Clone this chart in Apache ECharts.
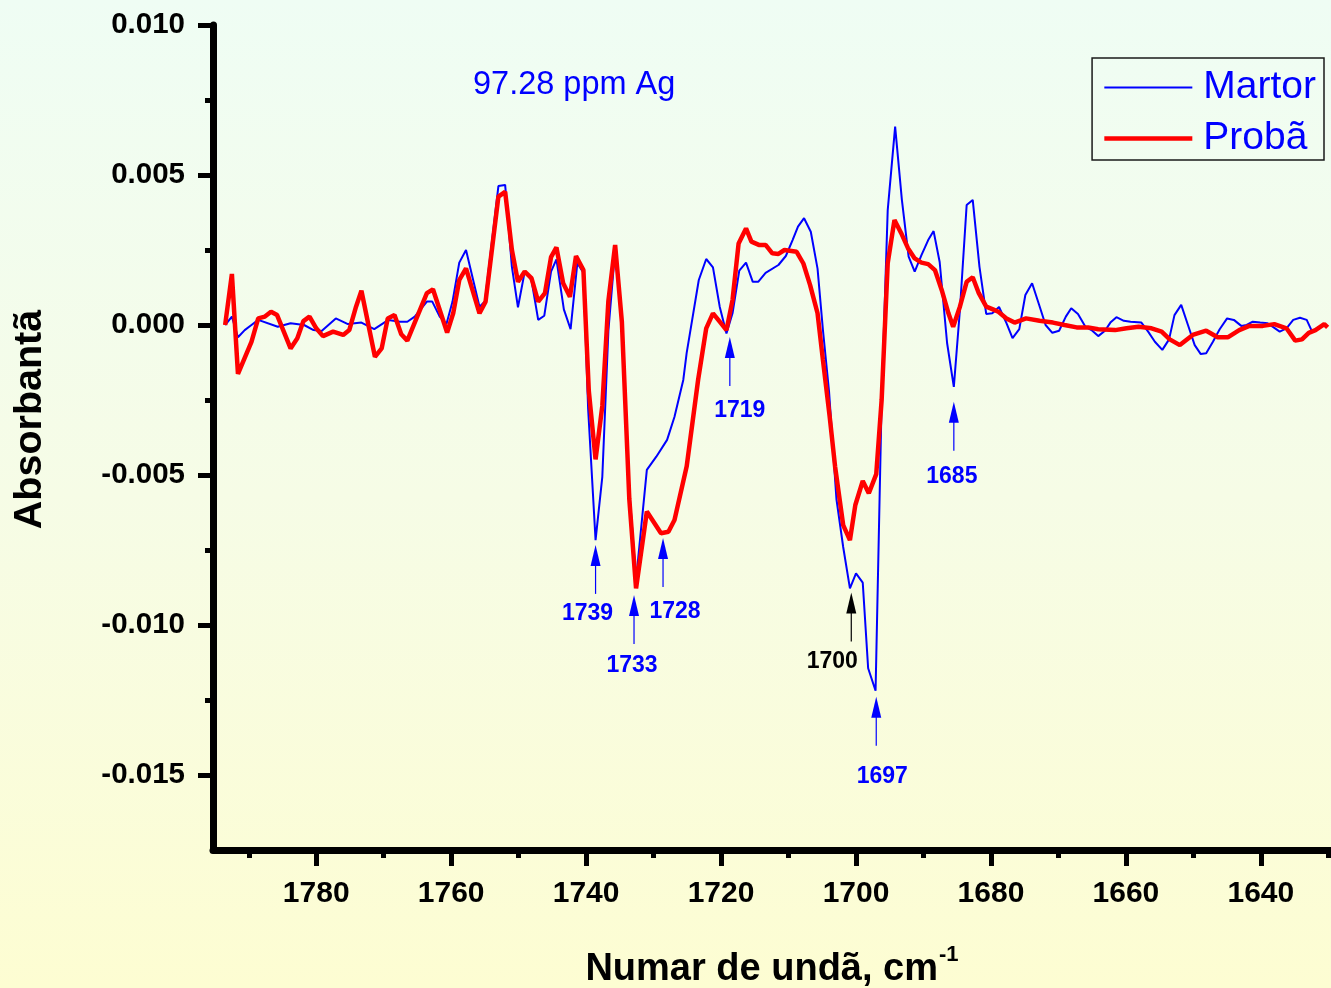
<!DOCTYPE html>
<html>
<head>
<meta charset="utf-8">
<script src="https://cdn.jsdelivr.net/npm/echarts@6/dist/echarts.min.js"></script>
<style>
html,body{margin:0;padding:0;background:#fff;}
#chart{width:1331px;height:988px;}
</style>
</head>
<body>
<div id="chart"></div>
<script>
// ---- Data (wavenumber, cm-1 / absorbance) ----
const martorWn = [1793.5,1792.5,1791.6,1790.6,1789.6,1788.6,1785.7,1783.8,1781.8,1780.4,1779.2,1777.1,1775.3,1773.3,1771.4,1769.3,1767.6,1766.5,1765.4,1763.6,1762.8,1761.7,1760.7,1759.8,1758.8,1757.8,1755.8,1755.0,1753.0,1752.0,1751.0,1750.1,1749.1,1748.1,1747.1,1746.2,1745.2,1744.4,1743.3,1742.3,1741.3,1740.4,1739.7,1738.6,1737.6,1736.7,1735.7,1734.7,1733.6,1732.6,1731.0,1729.6,1728.0,1726.9,1725.6,1725.1,1723.3,1722.2,1721.2,1720.2,1719.2,1718.3,1717.3,1716.3,1715.3,1714.5,1713.4,1711.5,1710.4,1709.4,1708.6,1707.7,1706.7,1705.7,1704.9,1704.0,1702.9,1701.9,1700.9,1700.0,1699.0,1698.2,1697.1,1696.2,1695.3,1694.2,1693.2,1692.2,1691.3,1690.3,1689.3,1688.5,1687.6,1686.5,1685.5,1684.6,1683.6,1682.7,1681.7,1680.7,1679.8,1678.8,1677.7,1676.8,1675.8,1674.9,1673.9,1672.9,1671.9,1670.9,1669.9,1668.9,1668.1,1667.1,1666.0,1665.1,1664.1,1663.1,1662.3,1661.4,1660.3,1659.3,1657.7,1656.7,1655.7,1654.6,1653.6,1652.8,1651.8,1650.8,1649.8,1648.9,1648.1,1647.1,1646.1,1645.0,1644.0,1642.9,1642.1,1641.2,1640.1,1639.0,1638.1,1637.2,1636.2,1635.2,1634.2,1633.2,1632.4,1631.5];
const martorAbs = [0.0000,0.00028,-0.00041,-0.00017,0.0000,0.00017,-0.00006,0.00006,0.0000,-0.00017,-0.00020,0.00022,0.00003,0.00008,-0.00014,0.00017,0.00011,0.00011,0.00028,0.00078,0.00078,0.00028,0.00003,0.00078,0.00208,0.00250,0.00061,0.00078,0.00463,0.00467,0.00194,0.00059,0.00178,0.00150,0.00017,0.00031,0.00178,0.00219,0.00052,-0.00014,0.00206,0.00174,-0.00280,-0.00717,-0.00506,-0.00020,0.00250,0.00030,-0.00550,-0.00850,-0.00483,-0.00439,-0.00383,-0.00306,-0.00183,-0.00094,0.00150,0.00220,0.00192,0.00061,-0.00028,0.00039,0.00181,0.00208,0.00144,0.00144,0.00174,0.00200,0.00230,0.00283,0.00328,0.00356,0.00311,0.00188,-0.00017,-0.00220,-0.00580,-0.00740,-0.00878,-0.00828,-0.00859,-0.01144,-0.01219,-0.00250,0.00383,0.00661,0.00417,0.00228,0.00178,0.00233,0.00283,0.00313,0.00210,-0.00060,-0.00206,0.00050,0.00400,0.00417,0.00194,0.00037,0.00039,0.00060,0.00006,-0.00044,-0.00014,0.00100,0.00139,0.00070,0.0000,-0.00026,-0.00019,0.00028,0.00056,0.00037,-0.00006,-0.00017,-0.00037,-0.00019,0.00008,0.00026,0.00014,0.00011,0.00008,-0.00022,-0.00056,-0.00083,-0.00048,0.00033,0.00067,0.0000,-0.00067,-0.00097,-0.00094,-0.00056,-0.00014,0.00022,0.00017,-0.00003,0.0000,0.00011,0.00008,0.00006,-0.00008,-0.00022,-0.00011,0.00017,0.00024,0.00017,-0.00022,-0.00008];

const probaWn = [1793.5,1792.5,1791.6,1789.6,1788.6,1787.6,1786.7,1785.8,1783.8,1782.8,1781.9,1781.0,1780.0,1779.0,1777.5,1776.0,1775.1,1774.1,1773.3,1771.3,1770.3,1769.4,1768.4,1767.4,1766.5,1763.6,1762.7,1760.6,1759.7,1758.8,1757.8,1755.8,1754.9,1753.0,1752.0,1751.0,1750.1,1749.1,1748.1,1747.1,1746.1,1745.2,1744.4,1743.4,1742.4,1741.5,1740.4,1739.6,1738.6,1737.6,1736.7,1735.7,1734.7,1733.6,1732.6,1731.0,1728.9,1727.8,1726.9,1725.1,1723.4,1722.2,1721.2,1720.2,1719.2,1718.3,1717.4,1716.3,1715.5,1714.4,1713.4,1712.4,1711.5,1710.6,1708.8,1707.8,1706.8,1705.7,1704.9,1703.9,1703.1,1701.9,1700.9,1700.1,1699.0,1698.1,1697.0,1696.2,1695.3,1694.3,1693.3,1692.3,1691.3,1690.3,1689.3,1688.3,1687.3,1686.3,1685.6,1684.6,1683.6,1682.7,1681.8,1680.7,1679.7,1678.9,1677.7,1676.5,1674.8,1672.8,1670.8,1669.1,1667.3,1665.6,1664.1,1661.6,1659.9,1658.1,1656.2,1654.7,1653.5,1652.0,1650.1,1648.1,1646.4,1644.9,1643.2,1641.7,1639.7,1638.0,1636.2,1634.9,1633.9,1632.9,1631.9,1630.6,1630.1];
const probaAbs = [0.0000,0.00170,-0.00163,-0.00056,0.00022,0.00028,0.00044,0.00033,-0.00078,-0.00044,0.00013,0.00028,-0.00011,-0.00037,-0.00022,-0.00033,-0.00017,0.00061,0.00114,-0.00106,-0.00078,0.00022,0.00033,-0.00031,-0.00052,0.00106,0.00119,-0.00025,0.00039,0.00150,0.00189,0.00039,0.00078,0.00428,0.00444,0.00250,0.00144,0.00178,0.00156,0.00078,0.00106,0.00226,0.00259,0.00139,0.00094,0.00230,0.00183,-0.00220,-0.00448,-0.00270,0.00080,0.00267,0.00010,-0.00580,-0.00878,-0.00622,-0.00694,-0.00689,-0.00650,-0.00472,-0.00183,-0.00011,0.00039,0.00011,-0.00017,0.00083,0.00272,0.00322,0.00278,0.00267,0.00267,0.00239,0.00237,0.00250,0.00244,0.00205,0.00133,0.00039,-0.00117,-0.00306,-0.00472,-0.00667,-0.00717,-0.00600,-0.00520,-0.00561,-0.00497,-0.00250,0.00206,0.00350,0.00306,0.00256,0.00222,0.00208,0.00203,0.00183,0.00117,0.00039,-0.00006,0.00061,0.00144,0.00159,0.00106,0.00061,0.00052,0.00044,0.00022,0.00008,0.00022,0.00014,0.00008,0.0000,-0.00008,-0.00008,-0.00014,-0.00017,-0.00011,-0.00006,-0.00011,-0.00022,-0.00048,-0.00067,-0.00033,-0.00019,-0.00041,-0.00041,-0.00017,-0.00003,-0.00003,0.00003,-0.00011,-0.00052,-0.00048,-0.00026,-0.00017,0.00003,-0.00008];

const seriesNames = ['Martor', 'Probã'];
const xMajorTicks = [1780, 1760, 1740, 1720, 1700, 1680, 1660, 1640];
const xMinorTicks = [1790, 1770, 1750, 1730, 1710, 1690, 1670, 1650, 1630];
const yMajorTicks = [-0.015, -0.010, -0.005, 0, 0.005, 0.010];
const yMinorTicks = [-0.0125, -0.0075, -0.0025, 0.0025, 0.0075];

// peak annotations: label, wavenumber of arrow, absorbance at arrow tip
const peakLabels = ['1739', '1733', '1728', '1719', '1700', '1697', '1685'];
const peakWn     = [1738.6, 1732.9, 1728.6, 1718.7, 1700.7, 1697.0, 1685.5];
const peakTipAbs = [-0.00733, -0.0090, -0.0071, -0.0004, -0.00892, -0.01239, -0.00256];

// ---- styling (not data) ----
const peakColors = ['#0000ff', '#0000ff', '#0000ff', '#0000ff', '#000000', '#0000ff', '#0000ff'];
const peakLabelDx = [-8, -2, 12, 10, -19, 6, -2];
const peakLabelDy = [69, 71, 74, 74, 69, 80, 75];
const lineWidths = [2, 4.5];
const lineColors = ['#0000ff', '#ff0000'];

const zip = (a, b) => a.map((v, i) => [v, b[i]]);
const X_MIN = 1629.6, X_MAX = 1795.3, Y_MIN = -0.0175, Y_MAX = 0.010;
const FONT = 'Liberation Sans, Arial, sans-serif';

const chart = echarts.init(document.getElementById('chart'), null, { renderer: 'canvas' });

const option = {
  backgroundColor: {
    type: 'linear', x: 0, y: 0, x2: 0, y2: 1,
    colorStops: [
      { offset: 0, color: '#effdf4' },
      { offset: 0.5, color: '#f6fce6' },
      { offset: 1, color: '#fdfdd2' }
    ]
  },
  animation: false,
  textStyle: { fontFamily: FONT },
  title: {
    text: '97.28 ppm Ag',
    left: 468, top: 64,
    textStyle: { color: '#0000ff', fontSize: 32.5, fontWeight: 'normal', fontFamily: FONT }
  },
  legend: {
    data: seriesNames.map((n, i) => ({ name: n, lineStyle: { width: lineWidths[i], color: lineColors[i] } })),
    orient: 'vertical',
    right: 7, top: 58,
    backgroundColor: 'transparent',
    borderColor: '#1a1a1a',
    borderWidth: 1.5,
    borderRadius: 0,
    padding: [10, 8, 2, 10],
    itemWidth: 88,
    itemHeight: 14,
    itemGap: 12,
    itemStyle: { color: 'transparent', borderColor: 'transparent', borderWidth: 0, opacity: 0 },
    textStyle: { color: '#0000ff', fontSize: 39, fontFamily: FONT, padding: [0, 0, 0, 6] }
  },
  grid: { left: 213, right: 0, top: 25, bottom: 138, containLabel: false, outerBoundsMode: 'none' },
  xAxis: [
    {
      type: 'value', inverse: true, min: X_MIN, max: X_MAX, position: 'bottom',
      name: '{t|Numar de undã, cm}{s|-1}',
      nameLocation: 'middle', nameGap: 94,
      nameTextStyle: {
        rich: {
          t: { fontSize: 38, fontWeight: 'bold', color: '#000', fontFamily: FONT },
          s: { fontSize: 22, fontWeight: 'bold', color: '#000', fontFamily: FONT, padding: [0, 0, 30, 1] }
        }
      },
      axisLine: { show: true, onZero: false, lineStyle: { color: '#000', width: 7 } },
      axisTick: { show: true, customValues: xMajorTicks, length: 16, lineStyle: { color: '#000', width: 5 } },
      axisLabel: { customValues: xMajorTicks, color: '#000', fontSize: 30, fontWeight: 'bold', margin: 29, fontFamily: FONT,
        formatter: v => String(Math.round(v)) },
      splitLine: { show: false }
    },
    {
      type: 'value', inverse: true, min: X_MIN, max: X_MAX, position: 'bottom', offset: 0,
      axisLine: { show: false, onZero: false },
      axisTick: { show: true, customValues: xMinorTicks, length: 8, lineStyle: { color: '#000', width: 5 } },
      axisLabel: { show: false, customValues: xMinorTicks },
      splitLine: { show: false }
    }
  ],
  yAxis: [
    {
      type: 'value', min: Y_MIN, max: Y_MAX, position: 'left',
      name: 'Absorbantã',
      nameLocation: 'middle', nameGap: 163, nameRotate: 90,
      nameTextStyle: { fontSize: 39.5, fontWeight: 'bold', color: '#000', fontFamily: FONT, padding: [0, 0, 0, 36] },
      axisLine: { show: true, onZero: false, lineStyle: { color: '#000', width: 7 } },
      axisTick: { show: true, customValues: yMajorTicks, length: 15, lineStyle: { color: '#000', width: 5 } },
      axisLabel: {
        customValues: yMajorTicks, color: '#000', fontSize: 29.5, fontWeight: 'bold', margin: 28,
        fontFamily: FONT,
        formatter: v => v.toFixed(3)
      },
      splitLine: { show: false }
    },
    {
      type: 'value', min: Y_MIN, max: Y_MAX, position: 'left', offset: 0,
      axisLine: { show: false, onZero: false },
      axisTick: { show: true, customValues: yMinorTicks, length: 8, lineStyle: { color: '#000', width: 5 } },
      axisLabel: { show: false, customValues: yMinorTicks },
      splitLine: { show: false }
    }
  ],
  series: [
    {
      name: seriesNames[0], type: 'line', xAxisIndex: 0, yAxisIndex: 0,
      data: zip(martorWn, martorAbs),
      showSymbol: false, symbol: 'none',
      lineStyle: { color: lineColors[0], width: lineWidths[0] },
      itemStyle: { color: lineColors[0] },
      z: 3
    },
    {
      name: seriesNames[1], type: 'line', xAxisIndex: 0, yAxisIndex: 0,
      data: zip(probaWn, probaAbs),
      showSymbol: false, symbol: 'none',
      lineStyle: { color: lineColors[1], width: lineWidths[1] },
      itemStyle: { color: lineColors[1] },
      z: 4
    },
    {
      name: 'peaks', type: 'custom', xAxisIndex: 0, yAxisIndex: 0,
      data: peakWn.map((w, i) => [w, peakTipAbs[i], i]),
      clip: false, z: 5, silent: true,
      renderItem: function (params, api) {
        const i = api.value(2);
        const p = api.coord([api.value(0), api.value(1)]);
        const c = peakColors[i];
        const headH = 21, headW = 5, len = 49;
        return {
          type: 'group',
          children: [
            { type: 'polygon', shape: { points: [[p[0], p[1]], [p[0] - headW, p[1] + headH], [p[0] + headW, p[1] + headH]] }, style: { fill: c } },
            { type: 'line', shape: { x1: p[0], y1: p[1] + headH - 1, x2: p[0], y2: p[1] + len }, style: { stroke: c, lineWidth: 1.2 } },
            { type: 'text', x: p[0] + peakLabelDx[i], y: p[1] + peakLabelDy[i],
              style: { text: peakLabels[i], fill: c, font: 'bold 23px "Liberation Sans", Arial, sans-serif', align: 'center', verticalAlign: 'middle' } }
          ]
        };
      }
    }
  ]
};
chart.setOption(option);
</script>
</body>
</html>
